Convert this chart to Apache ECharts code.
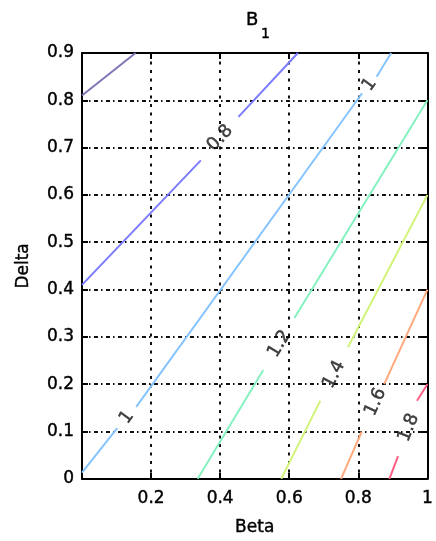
<!DOCTYPE html>
<html>
<head>
<meta charset="utf-8">
<script src="https://cdn.jsdelivr.net/npm/echarts@6/dist/echarts.min.js"></script>
<style>
  html, body { margin: 0; padding: 0; background: #fff; }
  #chart { width: 436px; height: 541px; }
</style>
</head>
<body>
<div id="chart"></div>
<script>
// Axis ticks
const betaTicks = [0, 0.2, 0.4, 0.6, 0.8, 1];
const betaTickLabels = ['', '0.2', '0.4', '0.6', '0.8', '1'];
const deltaTicks = [0, 0.1, 0.2, 0.3, 0.4, 0.5, 0.6, 0.7, 0.8, 0.9];
const deltaTickLabels = ['0', '0.1', '0.2', '0.3', '0.4', '0.5', '0.6', '0.7', '0.8', '0.9'];

// Contour levels of B1 and their line pieces [Beta, Delta] (gaps leave room for labels)
const levels = [0.6, 0.8, 1, 1.2, 1.4, 1.6, 1.8];
const level06 = [[[0, 0.81], [0.155, 0.9]]];
const level08 = [[[0, 0.41], [0.344, 0.673]], [[0.453, 0.765], [0.625, 0.9]]];
const level10 = [[[0, 0.013], [0.102, 0.107]], [[0.157, 0.152], [0.811, 0.815]], [[0.853, 0.85], [0.895, 0.9]]];
const level12 = [[[0.335, 0], [0.525, 0.23]], [[0.615, 0.34], [1, 0.8]]];
const level14 = [[[0.577, 0], [0.69, 0.165]], [[0.77, 0.278], [1, 0.6]]];
const level16 = [[[0.75, 0], [0.81, 0.1]], [[0.875, 0.2], [1, 0.4]]];
const level18 = [[[0.89, 0], [0.915, 0.048]], [[0.97, 0.165], [1, 0.2]]];
const levelPieces = [level06, level08, level10, level12, level14, level16, level18];

// Inline contour labels
const labelLevels = [0.8, 1, 1, 1.2, 1.4, 1.6, 1.8];
const labelTexts = ['0.8', '1', '1', '1.2', '1.4', '1.6', '1.8'];
const labelBeta = [0.4, 0.13, 0.833, 0.572, 0.73, 0.85, 0.946];
const labelDelta = [0.72, 0.13, 0.833, 0.285, 0.22, 0.162, 0.108];

const FONT = 'DejaVu Sans';
const levelColors = ['#7f76b8', '#7b7bff', '#86c4ff', '#84f2c0', '#d2f47a', '#ffa97e', '#ff5f82'];
const hDash = [4, 3, 1.5, 3.5];
const vDash = [3, 5.5];
// a thin outline in the text colour gives the labels a slightly heavier stroke
const heavy = { textBorderColor: '#000', textBorderWidth: 0.4 };

const chart = echarts.init(document.getElementById('chart'), null, { renderer: 'canvas' });

const xAxisBase = {
  type: 'value', min: 0, max: 1, interval: 0.2,
  axisLine: { show: true, onZero: false, lineStyle: { color: '#000', width: 2 } },
  axisTick: { show: true, inside: true, length: 6, lineStyle: { color: '#000', width: 2 } }
};
const yAxisBase = {
  type: 'value', min: 0, max: 0.9, interval: 0.1,
  axisLine: { show: true, onZero: false, lineStyle: { color: '#000', width: 2 } },
  axisTick: { show: true, inside: true, length: 6, lineStyle: { color: '#000', width: 2 } }
};

function tickText(ticks, labels, v) {
  for (let i = 0; i < ticks.length; i++) {
    if (Math.abs(ticks[i] - v) < 1e-9) return labels[i];
  }
  return '';
}

const series = [];
levelPieces.forEach((pieces, li) => {
  pieces.forEach(piece => {
    series.push({
      type: 'line',
      xAxisIndex: 0, yAxisIndex: 0,
      data: piece,
      showSymbol: false,
      symbol: 'none',
      silent: true,
      animation: false,
      clip: true,
      lineStyle: { color: levelColors[li], width: 2 },
      z: 3
    });
  });
});

function labelData(angles) {
  return labelTexts.map((t, i) => ({
    value: [labelBeta[i], labelDelta[i]],
    name: t,
    label: { rotate: angles ? angles[i] : 0 }
  }));
}

series.push({
  type: 'scatter',
  id: 'contourLabels',
  xAxisIndex: 0, yAxisIndex: 0,
  symbolSize: 1,
  itemStyle: { color: 'rgba(0,0,0,0)' },
  animation: false,
  silent: true,
  z: 5,
  label: Object.assign({
    show: true,
    position: 'inside',
    formatter: p => p.name,
    color: '#111',
    fontFamily: FONT,
    fontSize: 18
  }, heavy),
  data: labelData(null)
});

const option = {
  backgroundColor: '#fff',
  animation: false,
  grid: { left: 82, right: 2, top: 53, bottom: 56, containLabel: false },
  graphic: [
    { type: 'text', x: 246, y: 11, style: { text: 'B', fontSize: 18, fontFamily: FONT, fill: '#000', stroke: '#000', lineWidth: 0.4 } },
    { type: 'text', x: 261, y: 27, style: { text: '1', fontSize: 14, fontFamily: FONT, fill: '#000', stroke: '#000', lineWidth: 0.4 } }
  ],
  xAxis: [
    Object.assign({}, xAxisBase, {
      position: 'bottom',
      name: 'Beta', nameLocation: 'middle', nameGap: 40,
      nameTextStyle: Object.assign({ color: '#000', fontFamily: FONT, fontSize: 17 }, heavy),
      axisLabel: Object.assign({
        show: true, color: '#000', fontFamily: FONT, fontSize: 17, margin: 11,
        formatter: v => tickText(betaTicks, betaTickLabels, v)
      }, heavy),
      splitLine: { show: true, lineStyle: { color: '#111', width: 2, type: vDash } }
    }),
    Object.assign({}, xAxisBase, {
      position: 'top',
      axisLabel: { show: false },
      splitLine: { show: false }
    })
  ],
  yAxis: [
    Object.assign({}, yAxisBase, {
      position: 'left',
      name: 'Delta', nameLocation: 'middle', nameGap: 50, nameRotate: 90,
      nameTextStyle: Object.assign({ color: '#000', fontFamily: FONT, fontSize: 17 }, heavy),
      axisLabel: Object.assign({
        show: true, color: '#000', fontFamily: FONT, fontSize: 17, margin: 8,
        formatter: v => tickText(deltaTicks, deltaTickLabels, v)
      }, heavy),
      splitLine: { show: true, lineStyle: { color: '#111', width: 2, type: hDash } }
    }),
    Object.assign({}, yAxisBase, {
      position: 'right',
      axisLabel: { show: false },
      splitLine: { show: false }
    })
  ],
  series: series
};

chart.setOption(option);

// Turn each label along its contour line, using the pixel direction of that level
function pieceAngle(level) {
  const pieces = levelPieces[levels.indexOf(level)];
  const a = pieces[0][0];
  const last = pieces[pieces.length - 1];
  const b = last[last.length - 1];
  const pa = chart.convertToPixel({ xAxisIndex: 0, yAxisIndex: 0 }, a);
  const pb = chart.convertToPixel({ xAxisIndex: 0, yAxisIndex: 0 }, b);
  return Math.atan2(pa[1] - pb[1], pb[0] - pa[0]) * 180 / Math.PI;
}
const angles = labelLevels.map(pieceAngle);
chart.setOption({ series: [{ id: 'contourLabels', data: labelData(angles) }] });
</script>
</body>
</html>
